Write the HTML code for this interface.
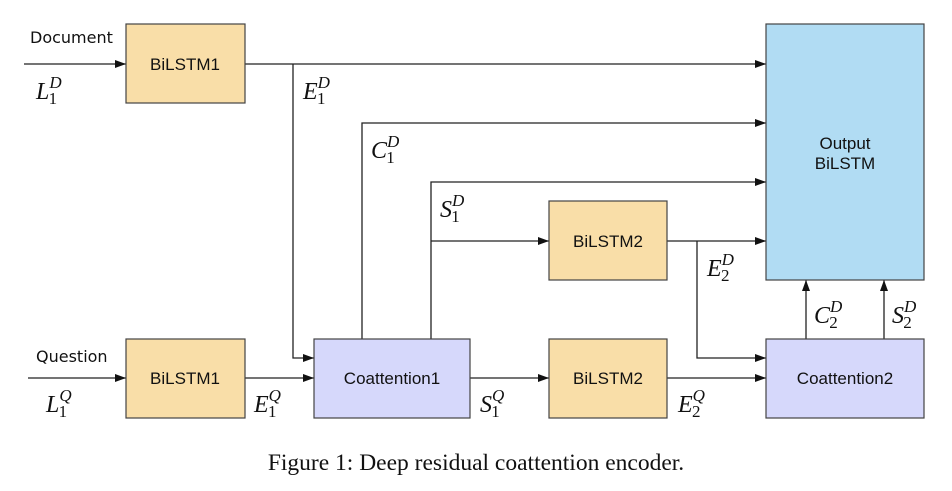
<!DOCTYPE html>
<html><head><meta charset="utf-8"><style>
html,body{margin:0;padding:0;background:#fff;}
svg{display:block;}
.b{font-family:"Liberation Sans",sans-serif;font-size:17px;fill:#111;}
.l{font-family:"DejaVu Sans","Liberation Sans",sans-serif;font-size:16px;fill:#111;}
.m{font-family:"Liberation Serif",serif;font-style:italic;font-size:24px;fill:#111;}
.sup{font-size:17px;font-style:italic;}
.sub{font-size:17px;font-style:normal;}
</style></head><body>
<svg width="952" height="491" viewBox="0 0 952 491" xmlns="http://www.w3.org/2000/svg">
<defs><marker id="a" markerWidth="11" markerHeight="8" refX="11" refY="4" orient="auto" markerUnits="userSpaceOnUse"><path d="M0,0 L11,4 L0,8 z" fill="#111"/></marker></defs>
<g stroke="#222" stroke-width="1.3" fill="none">
<line x1="24" y1="64" x2="126" y2="64" marker-end="url(#a)"/>
<line x1="245" y1="64" x2="766" y2="64" marker-end="url(#a)"/>
<polyline points="293,64 293,358 314,358" marker-end="url(#a)"/>
<polyline points="362,339 362,123 766,123" marker-end="url(#a)"/>
<polyline points="431,339 431,182 766,182" marker-end="url(#a)"/>
<line x1="431" y1="241" x2="549" y2="241" marker-end="url(#a)"/>
<line x1="667" y1="241" x2="766" y2="241" marker-end="url(#a)"/>
<polyline points="697,241 697,358 766,358" marker-end="url(#a)"/>
<line x1="806" y1="339" x2="806" y2="280" marker-end="url(#a)"/>
<line x1="884" y1="339" x2="884" y2="280" marker-end="url(#a)"/>
<line x1="28" y1="378" x2="126" y2="378" marker-end="url(#a)"/>
<line x1="245" y1="378" x2="314" y2="378" marker-end="url(#a)"/>
<line x1="470" y1="378" x2="549" y2="378" marker-end="url(#a)"/>
<line x1="667" y1="378" x2="766" y2="378" marker-end="url(#a)"/>
</g>
<g stroke="#444" stroke-width="1.2">
<rect x="126" y="24" width="119" height="79" fill="#f9dea8"/>
<rect x="766" y="24" width="158" height="256" fill="#b1dcf3"/>
<rect x="549" y="201" width="118" height="79" fill="#f9dea8"/>
<rect x="126" y="339" width="119" height="79" fill="#f9dea8"/>
<rect x="314" y="339" width="156" height="79" fill="#d6d8fb"/>
<rect x="549" y="339" width="118" height="79" fill="#f9dea8"/>
<rect x="766" y="339" width="158" height="79" fill="#d6d8fb"/>
</g>
<g class="b" text-anchor="middle">
<text x="185" y="70">BiLSTM1</text>
<text x="845" y="149">Output</text>
<text x="845" y="169">BiLSTM</text>
<text x="608" y="247">BiLSTM2</text>
<text x="185" y="384">BiLSTM1</text>
<text x="392" y="384">Coattention1</text>
<text x="608" y="384">BiLSTM2</text>
<text x="845" y="384">Coattention2</text>
</g>
<text class="l" x="30" y="43">Document</text>
<text class="l" x="36" y="362">Question</text>
<g class="m">
<text x="36" y="99">L<tspan class="sup" dy="-11">D</tspan><tspan class="sub" dx="-13" dy="16">1</tspan></text>
<text x="303" y="99">E<tspan class="sup" dy="-11">D</tspan><tspan class="sub" dx="-13" dy="16">1</tspan></text>
<text x="371" y="158">C<tspan class="sup" dy="-11">D</tspan><tspan class="sub" dx="-13" dy="16">1</tspan></text>
<text x="440" y="217">S<tspan class="sup" dy="-11">D</tspan><tspan class="sub" dx="-13" dy="16">1</tspan></text>
<text x="707" y="276">E<tspan class="sup" dy="-11">D</tspan><tspan class="sub" dx="-13" dy="16">2</tspan></text>
<text x="814" y="323">C<tspan class="sup" dy="-11">D</tspan><tspan class="sub" dx="-13" dy="16">2</tspan></text>
<text x="892" y="323">S<tspan class="sup" dy="-11">D</tspan><tspan class="sub" dx="-13" dy="16">2</tspan></text>
<text x="46" y="412">L<tspan class="sup" dy="-11">Q</tspan><tspan class="sub" dx="-13" dy="16">1</tspan></text>
<text x="254" y="412">E<tspan class="sup" dy="-11">Q</tspan><tspan class="sub" dx="-13" dy="16">1</tspan></text>
<text x="480" y="412">S<tspan class="sup" dy="-11">Q</tspan><tspan class="sub" dx="-13" dy="16">1</tspan></text>
<text x="678" y="412">E<tspan class="sup" dy="-11">Q</tspan><tspan class="sub" dx="-13" dy="16">2</tspan></text>
</g>
<text x="476" y="470" text-anchor="middle" font-family="Liberation Serif,serif" font-size="23.5" fill="#111">Figure 1: Deep residual coattention encoder.</text>
</svg>
</body></html>
